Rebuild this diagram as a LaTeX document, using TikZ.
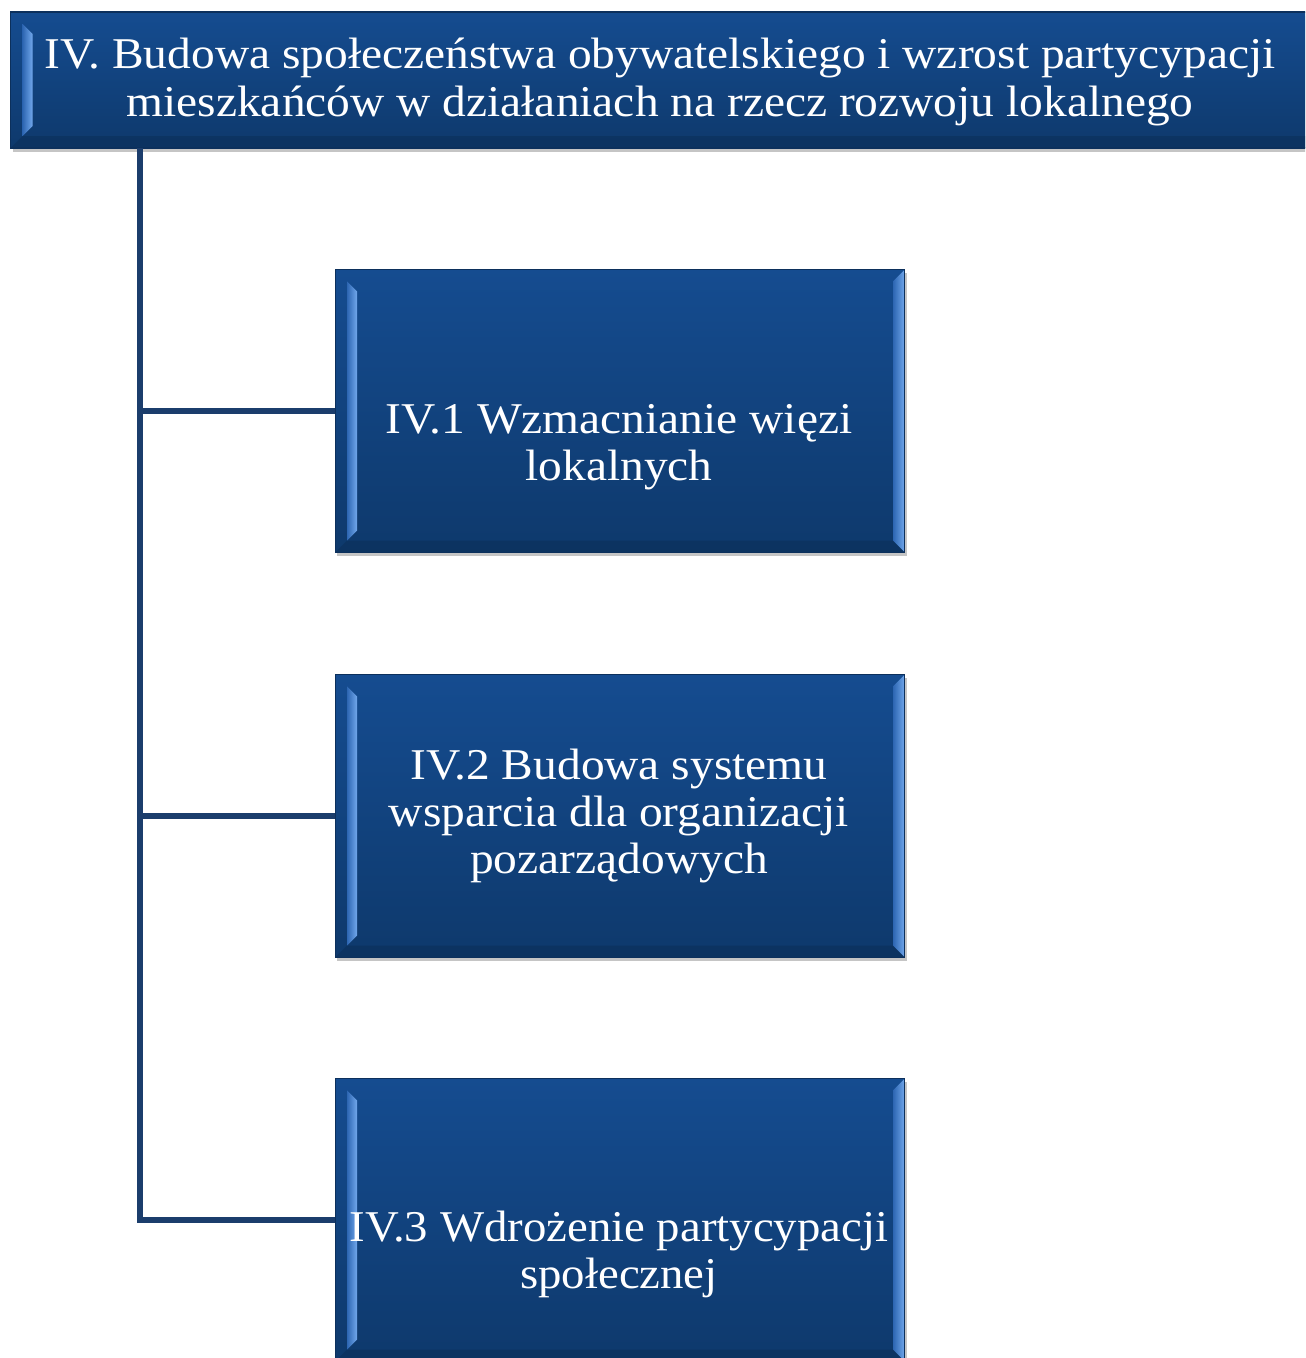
\documentclass[tikz,border=0pt]{standalone}
\usepackage{fontspec}
\setmainfont[FakeStretch=1.08]{Liberation Serif}
\newfontfamily\condfont[FakeStretch=1.065]{Liberation Serif}
\usetikzlibrary{calc,shadows}
\definecolor{boxtop}{HTML}{154C90}
\definecolor{boxbot}{HTML}{0E396C}
\definecolor{bevlight}{HTML}{72A8EC}
\definecolor{bevdark}{HTML}{2D66B2}
\definecolor{linec}{HTML}{1B3D6C}
\tikzset{
  bevelbox/.style={rectangle, top color=boxtop, bottom color=boxbot,
    draw=boxbot!85!black, line width=0.6pt, inner sep=0pt,
    drop shadow={shadow xshift=1.2pt, shadow yshift=-2.2pt, opacity=0.45},
    path picture={
      \coordinate (sw) at (path picture bounding box.south west);
      \coordinate (ne) at (path picture bounding box.north east);
      \coordinate (nw) at (sw|-ne);
      \coordinate (se) at (ne|-sw);
      \shade[left color=bevdark, right color=bevlight]
        ($(sw)+(6.8pt,6.8pt)$) -- ($(nw)+(6.8pt,-6.8pt)$) --
        ($(nw)+(12.5pt,-12.5pt)$) -- ($(sw)+(12.5pt,12.5pt)$) -- cycle;
      \shade[left color=bevdark, right color=bevlight]
        (se) -- (ne) -- ($(ne)+(-6.8pt,-6.8pt)$) -- ($(se)+(-6.8pt,6.8pt)$) -- cycle;
      \fill[boxbot!80!black, opacity=0.5]
        (sw) -- (se) -- ($(se)+(-6.8pt,6.8pt)$) -- ($(sw)+(6.8pt,6.8pt)$) -- cycle;
    }},
  boxtext/.style={text=white, align=center, inner sep=0pt,
    font=\fontsize{25}{26.8}\selectfont},
  conn/.style={draw=linec, line width=3pt}
}
\begin{document}
\begin{tikzpicture}[x=0.02cm, y=-0.02cm]
\useasboundingbox (0,0) rectangle (1305,1358);
\clip (0,0) rectangle (1305,1358);
\fill[white] (0,0) rectangle (1305,1358);

\node[bevelbox, minimum width=26.3cm, minimum height=2.72cm] (b0) at (668,80) {};
\node[bevelbox, minimum width=11.4cm, minimum height=5.66cm] (b1) at (620,411) {};
\node[bevelbox, minimum width=11.4cm, minimum height=5.66cm] (b2) at (620,816) {};
\node[bevelbox, minimum width=11.4cm, minimum height=5.66cm] (b3) at (620,1220) {};

\node[boxtext] (t0) at (660,82) {IV. Budowa społeczeństwa obywatelskiego i wzrost partycypacji\\mieszkańców w działaniach na rzecz rozwoju lokalnego};
\node[boxtext] (t1) at (619,447) {IV.1 Wzmacnianie więzi\\lokalnych};
\node[boxtext] (t2) at (619,816) {IV.2 Budowa systemu\\wsparcia dla organizacji\\pozarządowych};
\node[boxtext, font=\condfont\fontsize{25}{26.8}\selectfont] (t3) at (619,1254) {IV.3 Wdrożenie partycypacji\\społecznej};

\coordinate (trunk) at (140,148);
\draw[conn] (trunk) |- (b3.west);
\draw[conn] (trunk |- b1.west) -- (b1.west);
\draw[conn] (trunk |- b2.west) -- (b2.west);
\end{tikzpicture}
\end{document}
